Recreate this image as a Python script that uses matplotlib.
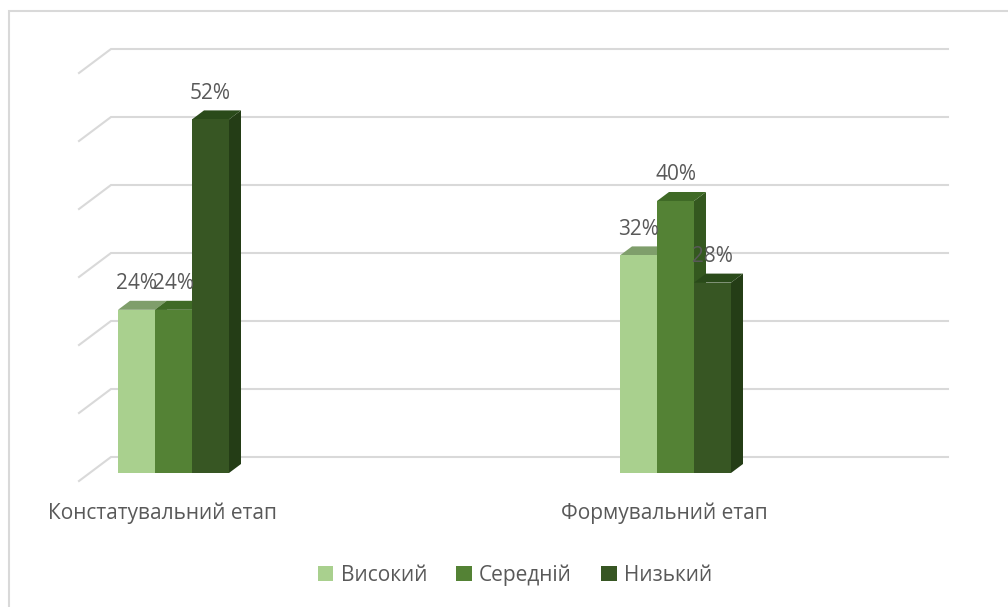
import numpy as np
import matplotlib.pyplot as plt
from matplotlib.patches import Polygon, Rectangle

# дані діаграми
етапи = ["Констатувальний етап", "Формувальний етап"]
рівні = ["Високий", "Середній", "Низький"]
високий = [24, 32]
середній = [24, 40]
низький = [52, 28]

кольори = ["#a9d08e", "#548235", "#375623"]
кольори_верх = ["#7f9e6b", "#3f6a26", "#2a4a1a"]
кольори_бік = ["#6f8f5a", "#34581f", "#243d16"]
сірий_текст = "#595959"

plt.rcParams["font.family"] = ["Open Sans", "DejaVu Sans"]

# масштаб: пікселів на одиницю категорії та на один відсоток
PX_X = 502.0
PX_Y = 6.8
X0, Y0 = 173.5, 473.0   # піксель першої категорії та нуля
W, H = 1008, 607


def px_dx(p):
    return p / PX_X


def px_dy(p):
    return p / PX_Y


fig = plt.figure(figsize=(W / 100, H / 100), dpi=100)
ax = fig.add_axes([0, 0, 1, 1])
ax.set_xlim(-X0 / PX_X, (W - X0) / PX_X)
ax.set_ylim(-(H - Y0) / PX_Y, Y0 / PX_Y)
ax.axis("off")

# рамка області діаграми
fig.patches.append(Rectangle((9 / W, -0.1), 1.2, 1 - 11 / H + 0.1,
                             transform=fig.transFigure, fill=False,
                             edgecolor="#d9d9d9", lw=1.5))

# сітка на задній стінці з діагоналями ліворуч
стінка_x0 = px_dx(79 - X0)
стінка_x1 = px_dx(111 - X0)
стінка_x2 = px_dx(948 - X0)
перед_y = -px_dy(8)
зад_y = px_dy(16)
for k in range(0, 70, 10):
    ax.plot([стінка_x0, стінка_x1, стінка_x2],
            [k + перед_y, k + зад_y, k + зад_y],
            color="#d9d9d9", lw=1.5, solid_joinstyle="miter", zorder=1)

# об'ємні стовпці: бік, верх, фронт
w = px_dx(37)
ddx = px_dx(12)
ddy = px_dy(9)
x = np.arange(len(етапи))
серії = [високий, середній, низький]
for gi in range(len(етапи)):
    for si, значення in enumerate(серії):
        v = значення[gi]
        xc = x[gi] + (si - 1) * w
        l, r = xc - w / 2, xc + w / 2
        z = 3 + si
        ax.add_patch(Polygon([(r, 0), (r + ddx, ddy), (r + ddx, v + ddy), (r, v)],
                             closed=True, facecolor=кольори_бік[si], lw=0, zorder=z))
        ax.add_patch(Polygon([(l, v), (l + ddx, v + ddy), (r + ddx, v + ddy), (r, v)],
                             closed=True, facecolor=кольори_верх[si], lw=0, zorder=z))
        ax.bar(xc, v, width=w, color=кольори[si], lw=0, zorder=z,
               label=рівні[si] if gi == 0 else None)
        ax.annotate(f"{v}%", (xc, v), xytext=(0, 26 * 0.72),
                    textcoords="offset points", ha="center", va="center",
                    fontsize=15, color=сірий_текст, zorder=10)

# підписи категорій
for gi, назва in enumerate(етапи):
    ax.text(x[gi] - px_dx(11), -px_dy(40), назва, ha="center", va="center",
            fontsize=15, color=сірий_текст)

fig.legend(loc="center", bbox_to_anchor=(515 / W, 1 - 575 / H), ncol=3,
           frameon=False, fontsize=15, labelcolor=сірий_текст,
           handlelength=0.75, handleheight=0.75, handletextpad=0.35,
           columnspacing=1.4)

fig.savefig("out.png", dpi=100)
